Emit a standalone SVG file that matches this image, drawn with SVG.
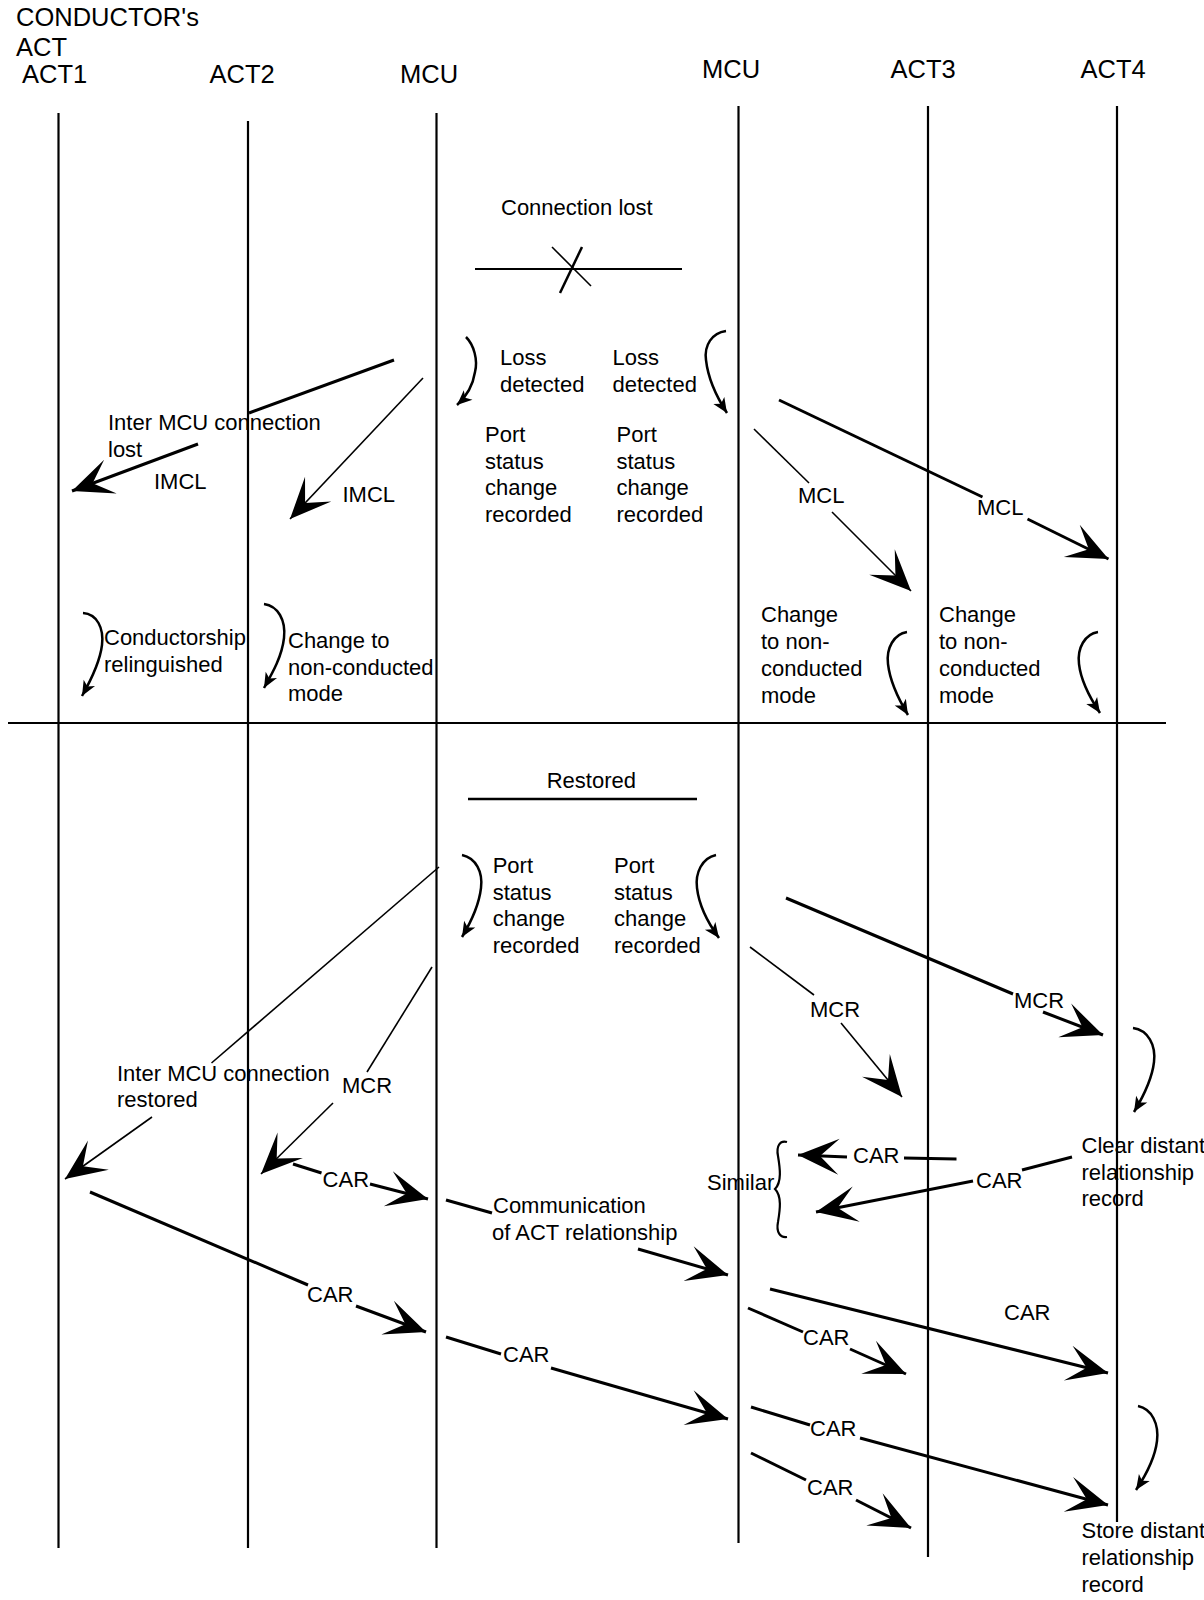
<svg xmlns="http://www.w3.org/2000/svg" width="1204" height="1600" viewBox="0 0 1204 1600">
  <style>
    text { font-family: "Liberation Sans", Arial, Helvetica, sans-serif; font-size: 22px; fill: #000; }
    .hdr { font-size: 25.5px; }
    .life { stroke: #000; stroke-width: 2.2; fill: none; }
    .rule { stroke: #000; stroke-width: 2; fill: none; }
    .thick { stroke: #000; stroke-width: 3; fill: none; }
    .thin { stroke: #000; stroke-width: 1.6; fill: none; }
    .to { marker-end: url(#head); }
    .curl { stroke: #000; stroke-width: 2.5; fill: none; marker-end: url(#curl-head); }
    .brace { stroke: #000; stroke-width: 2.2; fill: none; }
  </style>
  <defs>
    <!-- large barbed message arrowhead -->
    <marker id="head" markerUnits="userSpaceOnUse" viewBox="-44 -22 46 44" refX="0" refY="0" markerWidth="46" markerHeight="44" orient="auto">
      <path d="M0,0 L-41,-18 L-22,0 L-41,18 Z" fill="#000"/>
    </marker>
    <!-- small head for local-action curls -->
    <marker id="curl-head" markerUnits="userSpaceOnUse" viewBox="-17 -9 19 18" refX="0" refY="0" markerWidth="19" markerHeight="18" orient="auto">
      <path d="M0,0 L-15,-6.5 L-11,0 L-15,6.5 Z" fill="#000"/>
    </marker>
  </defs>
  <rect width="1204" height="1600" fill="#fff"/>

  <!-- participants -->
  <g id="act1">
    <text class="hdr" x="16" y="26">CONDUCTOR's</text>
    <text class="hdr" x="16" y="56">ACT</text>
    <text class="hdr" x="22" y="83">ACT1</text>
    <line class="life" x1="58.5" y1="113" x2="58.5" y2="1548"/>
  </g>
  <g id="act2">
    <text class="hdr" x="209.5" y="83">ACT2</text>
    <line class="life" x1="248" y1="121" x2="248" y2="1548"/>
  </g>
  <g id="mcu-a">
    <text class="hdr" x="400" y="83">MCU</text>
    <line class="life" x1="436.5" y1="113" x2="436.5" y2="1548"/>
  </g>
  <g id="mcu-b">
    <text class="hdr" x="702" y="77.5">MCU</text>
    <line class="life" x1="738.5" y1="106" x2="738.5" y2="1543"/>
  </g>
  <g id="act3">
    <text class="hdr" x="890.5" y="77.5">ACT3</text>
    <line class="life" x1="928" y1="106" x2="928" y2="1557"/>
  </g>
  <g id="act4">
    <text class="hdr" x="1080.5" y="77.5">ACT4</text>
    <line class="life" x1="1117" y1="106" x2="1117" y2="1522"/>
  </g>

  <!-- phase divider -->
  <g id="divider">
    <line class="rule" x1="8" y1="723" x2="1166" y2="723"/>
  </g>

  <!-- link failure -->
  <g id="connection-lost">
    <text x="501" y="215">Connection lost</text>
    <line class="rule" x1="475" y1="269" x2="682" y2="269"/>
    <line class="thin" x1="552" y1="247" x2="591" y2="286"/>
    <line stroke="#000" stroke-width="2.5" x1="582" y1="247" x2="560" y2="293"/>
  </g>

  <g id="loss-detected-a">
    <path class="curl" d="M466,337 C474,345 478,360 475,372 C473,385 467,396 457,405"/>
    <text x="500" y="365">Loss</text>
    <text x="500" y="392">detected</text>
  </g>
  <g id="loss-detected-b">
    <path class="curl" d="M726,331 C712,333 704,345 706,360 C708,378 716,396 727,413"/>
    <text x="612.5" y="365">Loss</text>
    <text x="612.5" y="392">detected</text>
  </g>
  <g id="port-status-a">
    <text x="485" y="442">Port</text>
    <text x="485" y="468.5">status</text>
    <text x="485" y="495">change</text>
    <text x="485" y="521.5">recorded</text>
  </g>
  <g id="port-status-b">
    <text x="616.5" y="442">Port</text>
    <text x="616.5" y="468.5">status</text>
    <text x="616.5" y="495">change</text>
    <text x="616.5" y="521.5">recorded</text>
  </g>

  <g id="conductorship-relinquished">
    <path class="curl" d="M83,613 C97,614 104,628 102,645 C100,662 91,680 82,696"/>
    <text x="104" y="645">Conductorship</text>
    <text x="104" y="672">relinguished</text>
  </g>
  <g id="act2-non-conducted">
    <path class="curl" d="M264,604 C278,606 286,620 284,638 C282,656 273,672 264,688"/>
    <text x="288" y="648">Change to</text>
    <text x="288" y="674.5">non-conducted</text>
    <text x="288" y="701">mode</text>
  </g>
  <g id="act3-non-conducted">
    <path class="curl" d="M907,632 C894,634 886,648 888,664 C890,682 899,700 908,715"/>
    <text x="761" y="622">Change</text>
    <text x="761" y="648.5">to non-</text>
    <text x="761" y="675.5">conducted</text>
    <text x="761" y="702.5">mode</text>
  </g>
  <g id="act4-non-conducted">
    <path class="curl" d="M1098,632 C1085,634 1077,648 1079,664 C1081,682 1090,698 1100,713"/>
    <text x="939" y="622">Change</text>
    <text x="939" y="648.5">to non-</text>
    <text x="939" y="675.5">conducted</text>
    <text x="939" y="702.5">mode</text>
  </g>

  <!-- link recovery -->
  <g id="restored">
    <text x="546.7" y="788">Restored</text>
    <line stroke="#000" stroke-width="2.5" x1="468" y1="799" x2="697" y2="799"/>
  </g>
  <g id="port-status-c">
    <path class="curl" d="M462,855 C476,858 483,872 481,888 C479,905 471,922 462,937"/>
    <text x="492.7" y="873">Port</text>
    <text x="492.7" y="899.5">status</text>
    <text x="492.7" y="926">change</text>
    <text x="492.7" y="952.5">recorded</text>
  </g>
  <g id="port-status-d">
    <path class="curl" d="M716,855 C702,858 695,873 697,888 C699,905 708,923 719,938"/>
    <text x="614" y="873">Port</text>
    <text x="614" y="899.5">status</text>
    <text x="614" y="926">change</text>
    <text x="614" y="952.5">recorded</text>
  </g>
  <g id="clear-distant">
    <path class="curl" d="M1133,1028 C1148,1030 1156,1045 1154,1062 C1152,1080 1143,1097 1134,1112"/>
    <text x="1081.5" y="1153">Clear distant</text>
    <text x="1081.5" y="1180">relationship</text>
    <text x="1081.5" y="1206">record</text>
  </g>
  <g id="similar">
    <text x="707" y="1190">Similar</text>
    <path class="brace" d="M787,1142 C780,1140 776,1146 778,1156 C780,1168 782,1182 775,1189 C782,1196 780,1210 778,1222 C776,1232 780,1238 787,1237"/>
  </g>
  <g id="store-distant">
    <path class="curl" d="M1138,1406 C1152,1409 1159,1424 1157,1441 C1155,1458 1146,1475 1136,1490"/>
    <text x="1081.5" y="1538">Store distant</text>
    <text x="1081.5" y="1565">relationship</text>
    <text x="1081.5" y="1592">record</text>
  </g>

  <!-- messages -->
  <g id="connectors">
    <!-- IMCL to ACT1 -->
    <line class="thick" x1="394" y1="360" x2="249" y2="413"/>
    <text x="108" y="430">Inter MCU connection</text>
    <text x="108" y="457">lost</text>
    <line class="thick to" x1="198" y1="444" x2="72" y2="491"/>
    <text x="154" y="489">IMCL</text>
    <!-- IMCL to ACT2 -->
    <line class="thin to" x1="423" y1="378" x2="290" y2="519"/>
    <text x="342.5" y="502">IMCL</text>
    <!-- MCL to ACT3 -->
    <line class="thin" x1="754" y1="429" x2="809" y2="483"/>
    <text x="798" y="503">MCL</text>
    <line class="thin to" x1="832" y1="512" x2="911" y2="591"/>
    <!-- MCL to ACT4 -->
    <line class="thick" x1="779" y1="400" x2="982.5" y2="497"/>
    <text x="977" y="515">MCL</text>
    <line class="thick to" x1="1027.5" y1="519" x2="1108.5" y2="559"/>

    <!-- IMCR to ACT1 -->
    <line class="thin" x1="439" y1="867" x2="211.5" y2="1063"/>
    <text x="117" y="1081">Inter MCU connection</text>
    <text x="117" y="1107">restored</text>
    <line class="thin to" x1="152" y1="1117" x2="65" y2="1179"/>
    <!-- MCR to ACT2 -->
    <line class="thin" x1="432" y1="967" x2="367" y2="1072"/>
    <text x="342" y="1093">MCR</text>
    <line class="thin to" x1="333" y1="1103" x2="261" y2="1174"/>
    <!-- MCR to ACT3 -->
    <line class="thin" x1="750" y1="947" x2="814" y2="995"/>
    <text x="810" y="1017">MCR</text>
    <line class="thin to" x1="841" y1="1023" x2="902" y2="1097"/>
    <!-- MCR to ACT4 -->
    <line class="thick" x1="786" y1="898" x2="1013" y2="994"/>
    <text x="1014" y="1008">MCR</text>
    <line class="thick to" x1="1043" y1="1012" x2="1103" y2="1035"/>

    <!-- CAR ACT2 to MCU -->
    <line class="thick" x1="293" y1="1164" x2="321.5" y2="1173"/>
    <text x="322.6" y="1187">CAR</text>
    <line class="thick to" x1="370" y1="1184" x2="428" y2="1199"/>
    <!-- CAR ACT1 to MCU -->
    <line class="thick" x1="90" y1="1192" x2="308" y2="1285"/>
    <text x="307" y="1302">CAR</text>
    <line class="thick to" x1="356" y1="1306" x2="426" y2="1332"/>
    <!-- relationship MCU to MCU -->
    <line class="thick" x1="446" y1="1200" x2="492" y2="1213"/>
    <text x="493" y="1213">Communication</text>
    <text x="492" y="1240">of ACT relationship</text>
    <line class="thick to" x1="638" y1="1249" x2="728" y2="1275"/>
    <!-- CAR MCU to MCU -->
    <line class="thick" x1="446" y1="1337" x2="501" y2="1354"/>
    <text x="503" y="1362">CAR</text>
    <line class="thick to" x1="551" y1="1368" x2="728" y2="1419"/>

    <!-- CAR back from ACT3 / ACT4 -->
    <line class="thick" x1="956.5" y1="1159" x2="904" y2="1158"/>
    <text x="853" y="1163">CAR</text>
    <line class="thick to" x1="847" y1="1157" x2="798" y2="1155"/>
    <line class="thick" x1="1072" y1="1157" x2="1022" y2="1170"/>
    <text x="976" y="1188">CAR</text>
    <line class="thick to" x1="973" y1="1181" x2="816" y2="1212"/>

    <!-- CAR MCU to ACT4 / ACT3 -->
    <line class="thick to" x1="770" y1="1289" x2="1108" y2="1373"/>
    <text x="1004" y="1320">CAR</text>
    <line class="thick" x1="748" y1="1308" x2="803" y2="1332"/>
    <text x="803" y="1345">CAR</text>
    <line class="thick to" x1="850" y1="1349" x2="906" y2="1374"/>
    <line class="thick" x1="751" y1="1407" x2="810" y2="1425"/>
    <text x="810" y="1436">CAR</text>
    <line class="thick to" x1="860" y1="1438" x2="1108" y2="1505"/>
    <line class="thick" x1="751" y1="1453" x2="806" y2="1480"/>
    <text x="807" y="1495">CAR</text>
    <line class="thick to" x1="856" y1="1500" x2="911" y2="1528"/>
  </g>
</svg>
